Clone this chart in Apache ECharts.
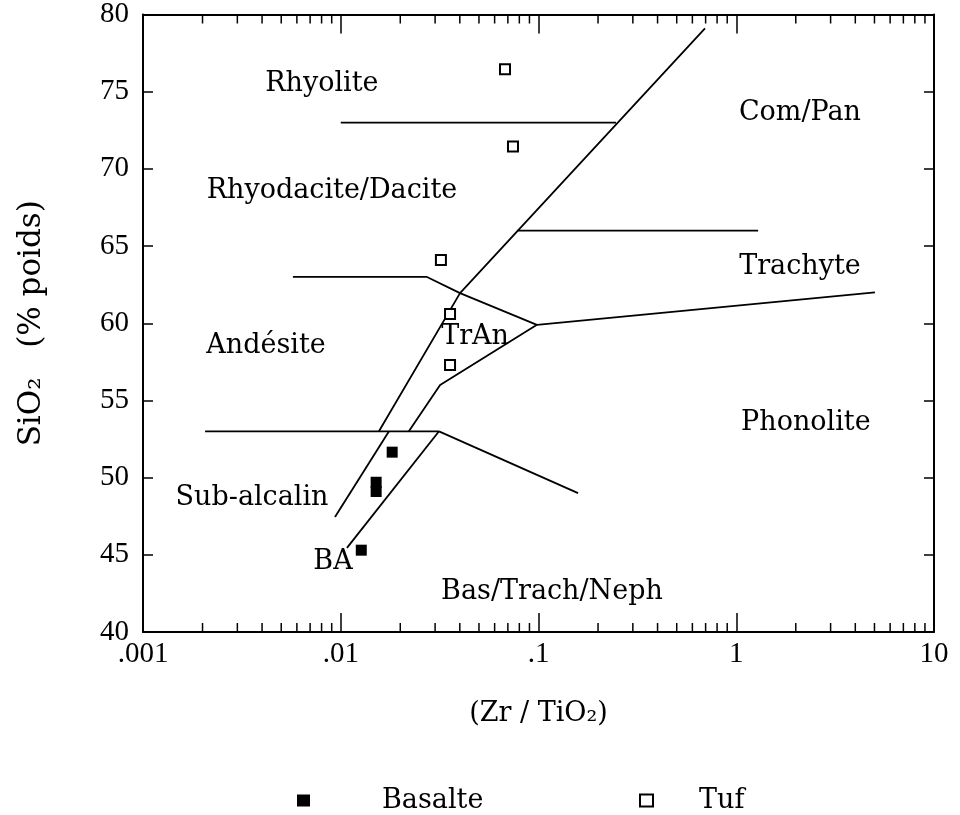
<!DOCTYPE html>
<html><head><meta charset="utf-8">
<script src="https://cdn.jsdelivr.net/npm/echarts@6/dist/echarts.min.js"></script>
<style>html,body{margin:0;padding:0;background:#fff}#c{width:960px;height:815px}</style>
</head><body><div id="c"></div>
<script>
// ---- data points ----
const basalteX = [0.0182, 0.0151, 0.0151, 0.0127];
const basalteY = [51.65, 49.7, 49.1, 45.3];
const tufX = [0.0677, 0.0743, 0.0321, 0.0357, 0.0357];
const tufY = [76.45, 71.45, 64.1, 60.6, 57.3];

// ---- field boundaries (Zr/TiO2, SiO2) ----
const lineRhyolite     = [[0.01, 73], [0.2466, 73]];
const lineMainDiag     = [[0.695, 79.1], [0.0401, 61.95], [0.0156, 53]];
const lineTrachyteTop  = [[0.0778, 66], [1.29, 66]];
const lineAndesiteTop  = [[0.00573, 63], [0.0273, 63], [0.0401, 61.95], [0.0982, 59.9]];
const lineTrachytePhon = [[0.0982, 59.9], [5.03, 62]];
const lineTrAnBase     = [[0.0982, 59.9], [0.0318, 56], [0.0221, 53]];
const lineBasaltTop    = [[0.00206, 53], [0.0314, 53]];
const lineBasPhon      = [[0.0314, 53], [0.1585, 49]];
const lineSubAlk       = [[0.01754, 53], [0.00935, 47.45]];
const lineBALower      = [[0.0314, 53], [0.01075, 45.45]];

// ---- field names ----
const regionNames = ['Rhyolite', 'Rhyodacite/Dacite', 'Com/Pan', 'Trachyte', 'Andésite', 'TrAn', 'Phonolite', 'Sub-alcalin', 'BA', 'Bas/Trach/Neph'];
const regionX = [0.00803, 0.00903, 2.10, 2.10, 0.00419, 0.0478, 2.25, 0.00356, 0.00914, 0.117];
const regionY = [75.53, 68.54, 73.59, 63.62, 58.51, 59.09, 53.53, 48.67, 44.53, 42.59];

// ---- ticks ----
const xTickLabels = ['.001', '.01', '.1', '1', '10'];
const decades = [0.001, 0.01, 0.1, 1];
const minorSteps = [2, 3, 4, 5, 6, 7, 8, 9];
const minorTicks = [];
decades.forEach(d => minorSteps.forEach(m => minorTicks.push([d * m, 60])));

const serif = 'DejaVu Serif';
const tickFont = 'Liberation Serif';

function zip(xs, ys) { return xs.map((x, i) => [x, ys[i]]); }
function boundary(data) {
  return { type: 'line', data: data, symbol: 'none', silent: true,
    lineStyle: { color: '#000', width: 1.8 }, z: 3 };
}

const chart = echarts.init(document.getElementById('c'));
const commonX = { type: 'log', logBase: 10, min: 0.001, max: 10, splitLine: { show: false },
  axisLine: { lineStyle: { color: '#000', width: 2 } },
  axisTick: { inside: true, length: 19, lineStyle: { color: '#000', width: 1.5 } } };
const commonY = { type: 'value', min: 40, max: 80, interval: 5, splitLine: { show: false },
  axisLine: { show: true, lineStyle: { color: '#000', width: 2 } },
  axisTick: { inside: true, length: 10, lineStyle: { color: '#000', width: 1.5 } } };

chart.setOption({
  animation: false,
  backgroundColor: '#fff',
  grid: { left: 143, right: 26, top: 14, bottom: 183 },
  xAxis: [
    Object.assign({}, commonX, { position: 'bottom',
      axisLabel: { color: '#000', fontFamily: tickFont, fontSize: 29, margin: 8,
        formatter: v => xTickLabels[Math.round(Math.log10(v)) + 3] },
      name: '(Zr / TiO₂)', nameLocation: 'middle', nameGap: 68,
      nameTextStyle: { color: '#000', fontFamily: serif, fontSize: 27 } }),
    Object.assign({}, commonX, { position: 'top', axisLabel: { show: false } })
  ],
  yAxis: [
    Object.assign({}, commonY, { position: 'left',
      axisLabel: { color: '#000', fontFamily: tickFont, fontSize: 29, margin: 14 },
      name: 'SiO₂   (% poids)', nameLocation: 'middle', nameGap: 96, nameRotate: 90,
      nameTextStyle: { color: '#000', fontFamily: serif, fontSize: 31 } }),
    Object.assign({}, commonY, { position: 'right', axisLabel: { show: false } })
  ],
  legend: [
    { data: ['Basalte'], left: 292, top: 782, itemWidth: 13, itemHeight: 12,
      textStyle: { color: '#000', fontFamily: serif, fontSize: 27, padding: [0, 0, 0, 67] } },
    { data: ['Tuf'], left: 634, top: 782, itemWidth: 13, itemHeight: 12,
      textStyle: { color: '#000', fontFamily: serif, fontSize: 27, padding: [0, 0, 0, 41] } }
  ],
  series: [
    boundary(lineRhyolite), boundary(lineMainDiag), boundary(lineTrachyteTop),
    boundary(lineAndesiteTop), boundary(lineTrachytePhon), boundary(lineTrAnBase),
    boundary(lineBasaltTop), boundary(lineBasPhon), boundary(lineSubAlk), boundary(lineBALower),
    { type: 'custom', data: minorTicks, encode: { x: 0, y: 1 }, clip: false, silent: true, z: 5,
      renderItem: (params, api) => {
        const v = api.value(0);
        const b = api.coord([v, 40]);
        const t = api.coord([v, 80]);
        const st = { stroke: '#000', lineWidth: 1.5 };
        return { type: 'group', children: [
          { type: 'line', shape: { x1: b[0], y1: b[1], x2: b[0], y2: b[1] - 9 }, style: st },
          { type: 'line', shape: { x1: t[0], y1: t[1], x2: t[0], y2: t[1] + 9 }, style: st }
        ] };
      } },
    { type: 'scatter', silent: true, data: zip(regionX, regionY).map((p, i) => ({ value: p, name: regionNames[i] })),
      symbolSize: 0, z: 4, itemStyle: { opacity: 1 },
      label: { show: true, position: 'inside', formatter: p => p.name, color: '#000',
        fontFamily: serif, fontSize: 27 } },
    { name: 'Basalte', type: 'scatter', data: zip(basalteX, basalteY), symbol: 'rect',
      symbolSize: [11, 11], itemStyle: { color: '#000', opacity: 1 }, z: 6 },
    { name: 'Tuf', type: 'scatter', data: zip(tufX, tufY), symbol: 'rect', symbolSize: [10, 10],
      itemStyle: { color: '#fff', borderColor: '#000', borderWidth: 2, opacity: 1 }, z: 6 }
  ]
});
</script></body></html>
